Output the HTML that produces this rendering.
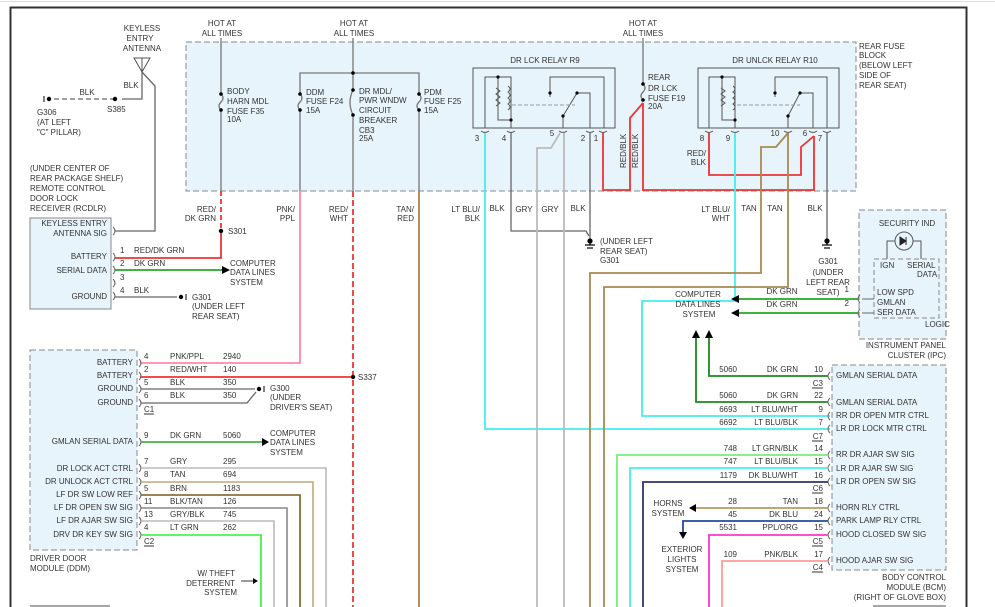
<!DOCTYPE html>
<html><head><meta charset="utf-8"><style>
html,body{margin:0;padding:0;background:#fff;}
svg{display:block;}
text{font-family:"Liberation Sans",sans-serif;font-size:8px;fill:#333;}
.r{text-anchor:end;}
.m{text-anchor:middle;}
</style></head><body>
<svg width="995" height="607" viewBox="0 0 995 607" xmlns="http://www.w3.org/2000/svg">
<line x1="0" y1="1.5" x2="995" y2="1.5" stroke="#ddd" stroke-width="1"/>
<path d="M10.5 607 V7.5 H966.5 V607" fill="none" stroke="#333" stroke-width="2"/>

<!-- Rear fuse block -->
<rect x="186" y="42" width="670" height="149" fill="#e8f4fb" stroke="#888" stroke-dasharray="6,3"/>
<text x="222" y="26" class="m">HOT AT</text><text x="222" y="36" class="m">ALL TIMES</text>
<text x="354" y="26" class="m">HOT AT</text><text x="354" y="36" class="m">ALL TIMES</text>
<text x="643" y="26" class="m">HOT AT</text><text x="643" y="36" class="m">ALL TIMES</text>
<text x="859" y="49">REAR FUSE</text><text x="859" y="58">BLOCK</text><text x="859" y="68">(BELOW LEFT</text><text x="859" y="78">SIDE OF</text><text x="859" y="88">REAR SEAT)</text>

<g fill="none" stroke="#777" stroke-width="1.3">
<path d="M221 38 V94 M221 110 V191"/>
<path d="M221 94 q4 4 0 8 q-4 4 0 8"/>
<path d="M353 38 V90 M353 115 V191 M353 73 H300 V94 M300 110 V191 M353 73 H419 V94 M419 110 V191"/>
<path d="M300 94 q4 4 0 8 q-4 4 0 8 M419 94 q4 4 0 8 q-4 4 0 8 M353 90 q-6 12 0 25"/>
<path d="M643 38 V84 M643 84 q4 4 0 8 q-4 4 0 8"/>
</g>
<g fill="#000"><circle cx="221" cy="94" r="1.8"/><circle cx="221" cy="110" r="1.8"/><circle cx="300" cy="94" r="1.8"/><circle cx="300" cy="110" r="1.8"/><circle cx="419" cy="94" r="1.8"/><circle cx="419" cy="110" r="1.8"/><circle cx="353" cy="73" r="1.8"/><circle cx="353" cy="90" r="1.8"/><circle cx="353" cy="115" r="1.8"/><circle cx="643" cy="84" r="1.8"/><circle cx="643" cy="100" r="1.8"/></g>
<text x="227" y="94">BODY</text><text x="227" y="104">HARN MDL</text><text x="227" y="114">FUSE F35</text><text x="227" y="122">10A</text>
<text x="306" y="95">DDM</text><text x="306" y="104">FUSE F24</text><text x="306" y="113">15A</text>
<text x="359" y="94">DR MDL/</text><text x="359" y="103">PWR WNDW</text><text x="359" y="113">CIRCUIT</text><text x="359" y="123">BREAKER</text><text x="359" y="133">CB3</text><text x="359" y="141">25A</text>
<text x="424" y="95">PDM</text><text x="424" y="104">FUSE F25</text><text x="424" y="113">15A</text>
<text x="648" y="80">REAR</text><text x="648" y="91">DR LCK</text><text x="648" y="101">FUSE F19</text><text x="648" y="109">20A</text>

<!-- Relays -->
<text x="545" y="63" class="m">DR LCK RELAY R9</text>
<text x="775" y="63" class="m">DR UNLCK RELAY R10</text>
<g fill="none" stroke="#555" stroke-width="1">
<rect x="473" y="68" width="142" height="60"/>
<rect x="698" y="68" width="141" height="60"/>
<path d="M485 128 V77 H511 V128 M498 77 V120 H511 M550 97 V77 H604 V128 M590 128 V93 H577 L563 116 V128"/>
<path d="M709 128 V77 H735 V128 M722 77 V120 H735 M775 97 V77 H827 V128 M813 128 V93 H800 L788 116 V128"/>
<path d="M496 88 l4 3 -4 3 4 3 -4 3 4 3 -4 3 M508 86 q4 3 0 6 q4 3 0 6 q4 3 0 6 q4 3 0 6"/>
<path d="M721 88 l4 3 -4 3 4 3 -4 3 4 3 -4 3 M733 86 q4 3 0 6 q4 3 0 6 q4 3 0 6 q4 3 0 6"/>
<path d="M512 105 H575 M737 105 H800" stroke-dasharray="4,2" stroke="#999"/>
</g>
<g fill="#000"><circle cx="498" cy="77" r="1.6"/><circle cx="511" cy="120" r="1.6"/><circle cx="550" cy="93" r="1.6"/><circle cx="577" cy="93" r="1.6"/><circle cx="563" cy="116" r="1.6"/><circle cx="722" cy="77" r="1.6"/><circle cx="735" cy="120" r="1.6"/><circle cx="775" cy="93" r="1.6"/><circle cx="800" cy="93" r="1.6"/><circle cx="788" cy="116" r="1.6"/></g>
<g fill="none" stroke="#555"><path d="M481 131 q4 3 8 0 M507 131 q4 3 8 0 M559 131 q4 3 8 0 M586 131 q4 3 8 0 M599 131 q4 3 8 0 M705 131 q4 3 8 0 M731 131 q4 3 8 0 M784 131 q4 3 8 0 M809 131 q4 3 8 0 M823 131 q4 3 8 0"/></g>
<text x="477" y="141" class="m">3</text><text x="504" y="141" class="m">4</text><text x="552" y="136" class="m">5</text><text x="583" y="141" class="m">2</text><text x="596" y="141" class="m">1</text>
<text x="702" y="141" class="m">8</text><text x="728" y="141" class="m">9</text><text x="775" y="136" class="m">10</text><text x="805" y="136" class="m">6</text><text x="820" y="141" class="m">7</text>

<!-- Red wires in fuse block -->
<g fill="none" stroke="#e33" stroke-width="1.8">
<path d="M603 133 V190 H630 V118 L643 103"/>
<path d="M643 103 V190 H814 V136"/>
<path d="M709 133 V175 H801 V147 L814 136"/>
</g>
<text transform="translate(626,168) rotate(-90)">RED/BLK</text>
<text transform="translate(638,168) rotate(-90)">RED/BLK</text>
<text x="706" y="156" class="r">RED/</text><text x="706" y="165" class="r">BLK</text>

<!-- Wires from relays -->
<g fill="none" stroke-width="1.8">
<path d="M485 133 V429 H830" stroke="#4ee"/>
<path d="M511 133 V231 H586 L589 236" stroke="#666" stroke-width="1.3"/>
<path d="M590 133 V240" stroke="#666" stroke-width="1.3"/>
<path d="M564 133 V607 M560 133 L551 148 H537 V607" stroke="#bbb"/>
<path d="M735 133 V301 H642 V416 H830" stroke="#4ee"/>
<path d="M788 133 L776 147 H761 V273 H590 V607" stroke="#a88a50"/>
<path d="M788 133 V287 H604 V607" stroke="#a88a50"/>
<path d="M827 133 V240" stroke="#666" stroke-width="1.3"/>
</g>
<!-- ground symbols -->
<g stroke="#000" stroke-width="1.2"><line x1="590" y1="240" x2="590" y2="245"/><line x1="585" y1="245" x2="595" y2="245"/><line x1="587" y1="248" x2="593" y2="248"/><circle cx="590" cy="241" r="2" fill="#000"/>
<line x1="827" y1="240" x2="827" y2="245"/><line x1="822" y1="245" x2="832" y2="245"/><line x1="824" y1="248" x2="830" y2="248"/><circle cx="827" cy="241" r="2" fill="#000"/></g>
<text x="600" y="244">(UNDER LEFT</text><text x="600" y="254">REAR SEAT)</text><text x="600" y="263">G301</text>
<text x="828" y="264" class="m">G301</text><text x="828" y="275" class="m">(UNDER</text><text x="828" y="285" class="m">LEFT REAR</text><text x="828" y="295" class="m">SEAT)</text>

<!-- labels below fuse block -->
<text x="216" y="212" class="r">RED/</text><text x="216" y="221" class="r">DK GRN</text>
<text x="295" y="212" class="r">PNK/</text><text x="295" y="221" class="r">PPL</text>
<text x="348" y="212" class="r">RED/</text><text x="348" y="221" class="r">WHT</text>
<text x="414" y="212" class="r">TAN/</text><text x="414" y="221" class="r">RED</text>
<text x="480" y="212" class="r">LT BLU/</text><text x="480" y="221" class="r">BLK</text>
<text x="497" y="211" class="m">BLK</text><text x="524" y="212" class="m">GRY</text><text x="550" y="212" class="m">GRY</text><text x="578" y="211" class="m">BLK</text>
<text x="730" y="212" class="r">LT BLU/</text><text x="730" y="221" class="r">WHT</text>
<text x="749" y="211" class="m">TAN</text><text x="775" y="211" class="m">TAN</text><text x="815" y="211" class="m">BLK</text>

<!-- Vertical feeds below fuse block -->
<g fill="none" stroke-width="1.8">
<path d="M221 191 V231" stroke="#e33" stroke-dasharray="5,3"/>
<path d="M221 231 V258 H115" stroke="#e33"/>
<path d="M300 191 V363 H140" stroke="#f8a"/>
<path d="M353 191 V607" stroke="#e33" stroke-dasharray="6,3"/>
<path d="M353 377 H140" stroke="#e33"/>
<path d="M419 191 V607" stroke="#b08050"/>
</g>
<circle cx="221" cy="231" r="2.2" fill="#000"/><text x="228" y="234">S301</text>
<circle cx="353" cy="377" r="2.2" fill="#000"/><text x="358" y="380">S337</text>

<!-- Keyless antenna -->
<text x="142" y="31" class="m">KEYLESS</text><text x="140" y="41" class="m">ENTRY</text><text x="142" y="51" class="m">ANTENNA</text>
<path d="M134 58 H150 L142 72 Z M142 58 V72" fill="none" stroke="#555"/>
<path d="M142 72 L155 86 V231 H115 M142 72 V99 H122" fill="none" stroke="#666" stroke-width="1.3"/>
<path d="M115 99 H49" stroke="#666" stroke-width="1.3" stroke-dasharray="5,3"/>
<circle cx="115" cy="99" r="2.2" fill="#000"/><circle cx="49" cy="99" r="2.2" fill="#000"/>
<line x1="44" y1="96" x2="44" y2="102" stroke="#000"/>
<text x="131" y="88" class="m">BLK</text><text x="87" y="95" class="m">BLK</text>
<text x="107" y="112">S385</text>
<text x="37" y="115">G306</text><text x="37" y="125">(AT LEFT</text><text x="37" y="135">"C" PILLAR)</text>

<!-- RCDLR -->
<text x="30" y="171">(UNDER CENTER OF</text><text x="30" y="181">REAR PACKAGE SHELF)</text><text x="30" y="191">REMOTE CONTROL</text><text x="30" y="201">DOOR LOCK</text><text x="30" y="211">RECEIVER (RCDLR)</text>
<rect x="30" y="218" width="81" height="91" fill="#e8f4fb" stroke="#888"/>
<text x="107" y="226" class="r">KEYLESS ENTRY</text><text x="107" y="236" class="r">ANTENNA SIG</text>
<text x="107" y="259" class="r">BATTERY</text><text x="107" y="273" class="r">SERIAL DATA</text><text x="107" y="299" class="r">GROUND</text>
<g fill="none" stroke="#666"><path d="M113 227 q4 4 0 8 M113 253 q4 4 0 8 M113 266 q4 4 0 8 M113 279 q4 4 0 8 M113 292 q4 4 0 8"/></g>
<path d="M115 270 H222" stroke="#2a2" stroke-width="1.8"/><path d="M222 266 L230 270 L222 274 Z" fill="#000"/>
<path d="M115 297 H177" stroke="#666" stroke-width="1.3"/>
<circle cx="181" cy="297" r="2.2" fill="#000"/><line x1="186" y1="294" x2="186" y2="300" stroke="#000"/>
<text x="120" y="253">1</text><text x="134" y="253">RED/DK GRN</text>
<text x="120" y="266">2</text><text x="134" y="266">DK GRN</text>
<text x="120" y="280">3</text>
<text x="120" y="293">4</text><text x="134" y="293">BLK</text>
<text x="230" y="266">COMPUTER</text><text x="230" y="275">DATA LINES</text><text x="230" y="285">SYSTEM</text>
<text x="192" y="300">G301</text><text x="192" y="309">(UNDER LEFT</text><text x="192" y="319">REAR SEAT)</text>

<!-- DDM -->
<rect x="30" y="350" width="107" height="200" fill="#e8f4fb" stroke="#888" stroke-dasharray="6,3"/>
<g class="r">
<text x="133" y="365" class="r">BATTERY</text><text x="133" y="378" class="r">BATTERY</text><text x="133" y="391" class="r">GROUND</text><text x="133" y="405" class="r">GROUND</text>
<text x="133" y="444" class="r">GMLAN SERIAL DATA</text>
<text x="133" y="471" class="r">DR LOCK ACT CTRL</text><text x="133" y="484" class="r">DR UNLOCK ACT CTRL</text><text x="133" y="497" class="r">LF DR SW LOW REF</text><text x="133" y="510" class="r">LF DR OPEN SW SIG</text><text x="133" y="523" class="r">LF DR AJAR SW SIG</text><text x="133" y="537" class="r">DRV DR KEY SW SIG</text>
</g>
<g fill="none" stroke="#666"><path d="M139 359 q4 4 0 8 M139 372 q4 4 0 8 M139 385 q4 4 0 8 M139 399 q4 4 0 8 M139 438 q4 4 0 8 M139 464 q4 4 0 8 M139 478 q4 4 0 8 M139 491 q4 4 0 8 M139 504 q4 4 0 8 M139 517 q4 4 0 8 M139 531 q4 4 0 8"/></g>
<g fill="none" stroke-width="1.6">
<path d="M141 389 H255 M141 403 H247 L256 392" stroke="#666" stroke-width="1.3"/>
<path d="M141 442 H262" stroke="#2a2"/>
<path d="M141 468 H326 V607" stroke="#bbb"/>
<path d="M141 482 H313 V607" stroke="#c0a878"/>
<path d="M141 495 H300 V607" stroke="#7a5a1a"/>
<path d="M141 508 H287 V607" stroke="#888"/>
<path d="M141 521 H274 V607" stroke="#bbb"/>
<path d="M141 535 H261 V607" stroke="#3e3"/>
</g>
<path d="M262 438 L269 442 L262 446 Z" fill="#000"/>
<circle cx="259" cy="389" r="2.2" fill="#000"/><line x1="264" y1="386" x2="264" y2="392" stroke="#000"/>
<text x="144" y="359">4</text><text x="170" y="359">PNK/PPL</text><text x="223" y="359">2940</text>
<text x="144" y="372">2</text><text x="170" y="372">RED/WHT</text><text x="223" y="372">140</text>
<text x="144" y="385">5</text><text x="170" y="385">BLK</text><text x="223" y="385">350</text>
<text x="144" y="398">6</text><text x="170" y="398">BLK</text><text x="223" y="398">350</text>
<text x="144" y="412">C1</text><line x1="144" y1="414" x2="154" y2="414" stroke="#333"/>
<text x="270" y="391">G300</text><text x="270" y="400">(UNDER</text><text x="270" y="410">DRIVER'S SEAT)</text>
<text x="144" y="438">9</text><text x="170" y="438">DK GRN</text><text x="223" y="438">5060</text>
<text x="270" y="436">COMPUTER</text><text x="270" y="445">DATA LINES</text><text x="270" y="455">SYSTEM</text>
<text x="144" y="464">7</text><text x="170" y="464">GRY</text><text x="223" y="464">295</text>
<text x="144" y="477">8</text><text x="170" y="477">TAN</text><text x="223" y="477">694</text>
<text x="144" y="491">5</text><text x="170" y="491">BRN</text><text x="223" y="491">1183</text>
<text x="144" y="504">11</text><text x="170" y="504">BLK/TAN</text><text x="223" y="504">126</text>
<text x="144" y="517">13</text><text x="170" y="517">GRY/BLK</text><text x="223" y="517">745</text>
<text x="144" y="530">4</text><text x="170" y="530">LT GRN</text><text x="223" y="530">262</text>
<text x="144" y="544">C2</text><line x1="144" y1="546" x2="154" y2="546" stroke="#333"/>
<text x="30" y="561">DRIVER DOOR</text><text x="30" y="571">MODULE (DDM)</text>
<text x="235" y="576" class="r">W/ THEFT</text><text x="235" y="586" class="r">DETERRENT</text><text x="237" y="595" class="r">SYSTEM</text>
<path d="M241 581 H254" stroke="#333"/><path d="M253 578 L258 581 L253 584 Z" fill="#000"/>
<path d="M30 606 H110" stroke="#888" stroke-width="1.5"/>

<!-- IPC -->
<rect x="859" y="210" width="87" height="129" fill="#e8f4fb" stroke="#888" stroke-dasharray="6,3"/>
<text x="907" y="226" class="m">SECURITY IND</text>
<circle cx="904" cy="241" r="9" fill="none" stroke="#555"/>
<path d="M900 237 V245 L906 241 Z M906 237 V245" fill="#222" stroke="#222"/>
<path d="M895 241 H887 V259 M913 241 H921 V259" fill="none" stroke="#555"/>
<rect x="874" y="259" width="65" height="59" fill="none" stroke="#888" stroke-dasharray="5,3"/>
<text x="880" y="268">IGN</text><text x="907" y="268">SERIAL</text><text x="917" y="277">DATA</text>
<text x="877" y="295">LOW SPD</text><text x="877" y="305">GMLAN</text><text x="877" y="315">SER DATA</text>
<text x="925" y="327">LOGIC</text>
<text x="946" y="348" class="r">INSTRUMENT PANEL</text><text x="946" y="358" class="r">CLUSTER (IPC)</text>
<g fill="none" stroke="#666"><path d="M860 295 q-4 4 0 8 M860 309 q-4 4 0 8 M874 299 H862 M874 313 H862"/></g>
<path d="M858 299 H738 M858 313 H738" stroke="#2a2" stroke-width="1.8"/>
<path d="M739 295 L731 299 L739 303 Z M739 309 L731 313 L739 317 Z" fill="#000"/>
<text x="782" y="294" class="m">DK GRN</text><text x="782" y="307" class="m">DK GRN</text>
<text x="849" y="292" class="r">1</text><text x="849" y="306" class="r">2</text>
<text x="698" y="297" class="m">COMPUTER</text><text x="698" y="307" class="m">DATA LINES</text><text x="699" y="317" class="m">SYSTEM</text>

<!-- BCM -->
<rect x="832" y="365" width="114" height="205" fill="#e8f4fb" stroke="#888" stroke-dasharray="6,3"/>
<g>
<text x="836" y="378">GMLAN SERIAL DATA</text><text x="836" y="405">GMLAN SERIAL DATA</text><text x="836" y="418">RR DR OPEN MTR CTRL</text><text x="836" y="431">LR DR LOCK MTR CTRL</text>
<text x="836" y="457">RR DR AJAR SW SIG</text><text x="836" y="471">LR DR AJAR SW SIG</text><text x="836" y="484">LR DR OPEN SW SIG</text>
<text x="836" y="510">HORN RLY CTRL</text><text x="836" y="523">PARK LAMP RLY CTRL</text><text x="836" y="537">HOOD CLOSED SW SIG</text><text x="836" y="563">HOOD AJAR SW SIG</text>
</g>
<g fill="none" stroke="#666"><path d="M830 372 q-4 4 0 8 M830 398 q-4 4 0 8 M830 412 q-4 4 0 8 M830 425 q-4 4 0 8 M830 451 q-4 4 0 8 M830 464 q-4 4 0 8 M830 478 q-4 4 0 8 M830 504 q-4 4 0 8 M830 517 q-4 4 0 8 M830 531 q-4 4 0 8 M830 557 q-4 4 0 8"/></g>
<path d="M696 336 V402 H828 M709 336 V376 H828" fill="none" stroke="#1a8a1a" stroke-width="1.8"/>
<path d="M692 338 L696 330 L700 338 Z M705 338 L709 330 L713 338 Z" fill="#000"/>
<g fill="none" stroke-width="1.8">
<path d="M617 607 V455 H828" stroke="#7e7"/>
<path d="M630 607 V468 H828" stroke="#4ee"/>
<path d="M643 607 V482 H828" stroke="#336"/>
<path d="M694 508 H828" stroke="#b89a60"/>
<path d="M683 533 V521 H828" stroke="#224a99"/>
<path d="M709 607 V535 H828" stroke="#f3c"/>
<path d="M722 607 V561 H828" stroke="#f99"/>
</g>
<path d="M696 504 L689 508 L696 512 Z M679 532 L683 539 L687 532 Z" fill="#000"/>
<text x="668" y="506" class="m">HORNS</text><text x="668" y="516" class="m">SYSTEM</text>
<text x="682" y="552" class="m">EXTERIOR</text><text x="682" y="562" class="m">LIGHTS</text><text x="682" y="572" class="m">SYSTEM</text>
<g>
<text x="737" y="372" class="r">5060</text><text x="798" y="372" class="r">DK GRN</text><text x="823" y="372" class="r">10</text>
<text x="823" y="386" class="r">C3</text>
<text x="737" y="398" class="r">5060</text><text x="798" y="398" class="r">DK GRN</text><text x="823" y="398" class="r">22</text>
<text x="737" y="412" class="r">6693</text><text x="798" y="412" class="r">LT BLU/WHT</text><text x="823" y="412" class="r">9</text>
<text x="737" y="425" class="r">6692</text><text x="798" y="425" class="r">LT BLU/BLK</text><text x="823" y="425" class="r">7</text>
<text x="823" y="439" class="r">C7</text>
<text x="737" y="451" class="r">748</text><text x="798" y="451" class="r">LT GRN/BLK</text><text x="823" y="451" class="r">14</text>
<text x="737" y="464" class="r">747</text><text x="798" y="464" class="r">LT BLU/BLK</text><text x="823" y="464" class="r">15</text>
<text x="737" y="478" class="r">1179</text><text x="798" y="478" class="r">DK BLU/WHT</text><text x="823" y="478" class="r">16</text>
<text x="823" y="491" class="r">C6</text>
<text x="737" y="504" class="r">28</text><text x="798" y="504" class="r">TAN</text><text x="823" y="504" class="r">18</text>
<text x="737" y="517" class="r">45</text><text x="798" y="517" class="r">DK BLU</text><text x="823" y="517" class="r">24</text>
<text x="737" y="530" class="r">5531</text><text x="798" y="530" class="r">PPL/ORG</text><text x="823" y="530" class="r">15</text>
<text x="823" y="544" class="r">C5</text>
<text x="737" y="557" class="r">109</text><text x="798" y="557" class="r">PNK/BLK</text><text x="823" y="557" class="r">17</text>
<text x="823" y="570" class="r">C4</text>
</g>
<g stroke="#333"><line x1="812" y1="388" x2="823" y2="388"/><line x1="812" y1="441" x2="823" y2="441"/><line x1="812" y1="493" x2="823" y2="493"/><line x1="812" y1="546" x2="823" y2="546"/><line x1="812" y1="572" x2="823" y2="572"/></g>
<text x="946" y="580" class="r">BODY CONTROL</text><text x="946" y="590" class="r">MODULE (BCM)</text><text x="946" y="600" class="r">(RIGHT OF GLOVE BOX)</text>
<path d="M873 606 H946" stroke="#888" stroke-width="1.5"/>
</svg>
</body></html>
